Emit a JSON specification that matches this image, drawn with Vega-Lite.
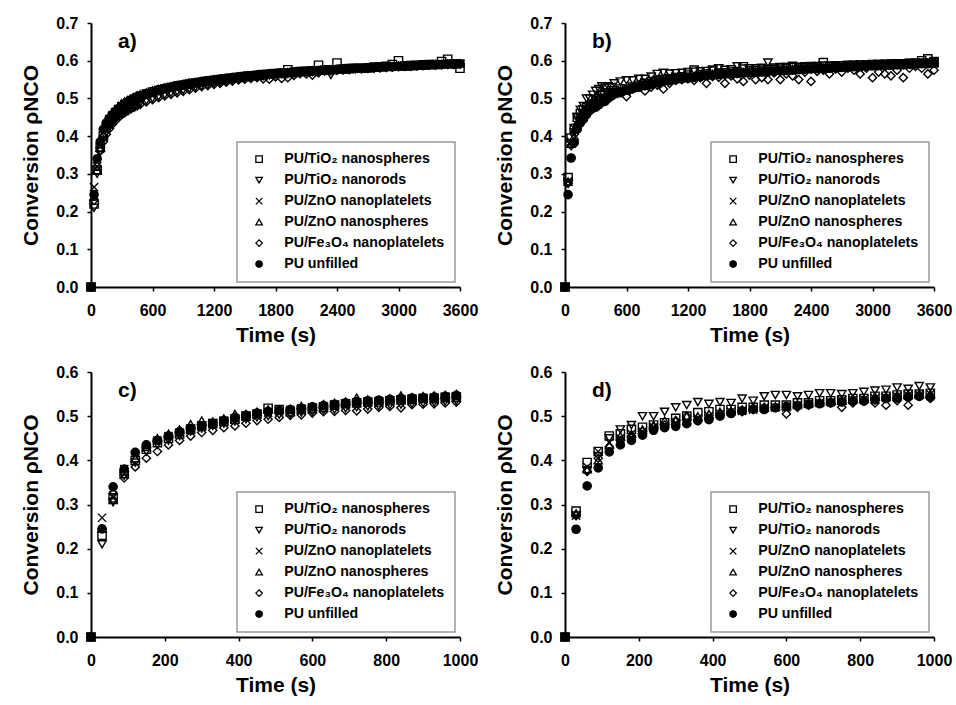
{
  "$schema": "https://vega.github.io/schema/vega-lite/v6.json",
  "background": "white",
  "padding": {"left": 20, "top": 15, "right": 5, "bottom": 5},
  "datasets": {
    "a": [
      {"t":0,"sq":0,"td":0,"x":0,"tu":0,"di":0,"ci":0},
      {"t":30,"sq":0.22,"td":0.21,"x":0.265,"tu":0.24,"di":0.23,"ci":0.245},
      {"t":60,"sq":0.31,"td":0.30,"x":0.32,"tu":0.31,"di":0.32,"ci":0.34},
      {"t":90,"sq":0.37,"td":0.36,"x":0.38,"tu":0.37,"di":0.36,"ci":0.385},
      {"t":120,"sq":0.40,"td":0.39,"x":0.41,"tu":0.405,"di":0.385,"ci":0.418},
      {"t":150,"sq":0.425,"td":0.41,"x":0.43,"tu":0.43,"di":0.405,"ci":0.435},
      {"t":180,"sq":0.44,"td":0.425,"x":0.445,"tu":0.448,"di":0.42,"ci":0.447},
      {"t":210,"sq":0.452,"td":0.435,"x":0.455,"tu":0.46,"di":0.432,"ci":0.457},
      {"t":240,"sq":0.462,"td":0.445,"x":0.464,"tu":0.47,"di":0.442,"ci":0.466},
      {"t":270,"sq":0.47,"td":0.453,"x":0.472,"tu":0.48,"di":0.45,"ci":0.473},
      {"t":300,"sq":0.477,"td":0.46,"x":0.479,"tu":0.487,"di":0.457,"ci":0.479},
      {"t":330,"sq":0.483,"td":0.466,"x":0.485,"tu":0.492,"di":0.462,"ci":0.485},
      {"t":360,"sq":0.488,"td":0.47,"x":0.49,"tu":0.496,"di":0.467,"ci":0.49},
      {"t":390,"sq":0.493,"td":0.475,"x":0.495,"tu":0.5,"di":0.472,"ci":0.495},
      {"t":420,"sq":0.497,"td":0.479,"x":0.499,"tu":0.504,"di":0.476,"ci":0.499},
      {"t":450,"sq":0.501,"td":0.483,"x":0.503,"tu":0.508,"di":0.48,"ci":0.503},
      {"t":480,"sq":0.505,"td":0.487,"x":0.507,"tu":0.511,"di":0.484,"ci":0.507},
      {"t":540,"sq":0.511,"td":0.494,"x":0.513,"tu":0.516,"di":0.491,"ci":0.513},
      {"t":600,"sq":0.516,"td":0.5,"x":0.518,"tu":0.521,"di":0.497,"ci":0.518},
      {"t":660,"sq":0.521,"td":0.505,"x":0.522,"tu":0.525,"di":0.502,"ci":0.523},
      {"t":720,"sq":0.525,"td":0.51,"x":0.526,"tu":0.529,"di":0.507,"ci":0.527},
      {"t":780,"sq":0.529,"td":0.514,"x":0.53,"tu":0.532,"di":0.511,"ci":0.53},
      {"t":840,"sq":0.532,"td":0.518,"x":0.533,"tu":0.535,"di":0.515,"ci":0.534},
      {"t":900,"sq":0.535,"td":0.522,"x":0.536,"tu":0.538,"di":0.519,"ci":0.537},
      {"t":960,"sq":0.538,"td":0.526,"x":0.539,"tu":0.541,"di":0.523,"ci":0.54},
      {"t":1020,"sq":0.541,"td":0.53,"x":0.541,"tu":0.543,"di":0.527,"ci":0.542},
      {"t":1080,"sq":0.543,"td":0.533,"x":0.544,"tu":0.546,"di":0.531,"ci":0.545},
      {"t":1140,"sq":0.546,"td":0.536,"x":0.546,"tu":0.548,"di":0.534,"ci":0.547},
      {"t":1200,"sq":0.548,"td":0.539,"x":0.548,"tu":0.55,"di":0.537,"ci":0.549},
      {"t":1260,"sq":0.55,"td":0.542,"x":0.55,"tu":0.552,"di":0.54,"ci":0.551},
      {"t":1320,"sq":0.552,"td":0.545,"x":0.552,"tu":0.554,"di":0.543,"ci":0.553},
      {"t":1380,"sq":0.554,"td":0.548,"x":0.554,"tu":0.556,"di":0.546,"ci":0.555},
      {"t":1440,"sq":0.556,"td":0.55,"x":0.556,"tu":0.558,"di":0.549,"ci":0.557},
      {"t":1500,"sq":0.558,"td":0.553,"x":0.558,"tu":0.56,"di":0.551,"ci":0.559},
      {"t":1560,"sq":0.56,"td":0.555,"x":0.56,"tu":0.561,"di":0.553,"ci":0.56},
      {"t":1620,"sq":0.561,"td":0.557,"x":0.561,"tu":0.563,"di":0.555,"ci":0.562},
      {"t":1680,"sq":0.563,"td":0.559,"x":0.563,"tu":0.564,"di":0.552,"ci":0.563},
      {"t":1740,"sq":0.564,"td":0.561,"x":0.564,"tu":0.566,"di":0.551,"ci":0.565},
      {"t":1800,"sq":0.566,"td":0.562,"x":0.566,"tu":0.567,"di":0.557,"ci":0.566},
      {"t":1860,"sq":0.567,"td":0.564,"x":0.567,"tu":0.568,"di":0.553,"ci":0.567},
      {"t":1920,"sq":0.576,"td":0.565,"x":0.568,"tu":0.569,"di":0.555,"ci":0.568},
      {"t":1980,"sq":0.569,"td":0.567,"x":0.57,"tu":0.571,"di":0.561,"ci":0.57},
      {"t":2040,"sq":0.571,"td":0.568,"x":0.571,"tu":0.572,"di":0.566,"ci":0.571},
      {"t":2100,"sq":0.572,"td":0.569,"x":0.572,"tu":0.573,"di":0.565,"ci":0.572},
      {"t":2160,"sq":0.573,"td":0.57,"x":0.573,"tu":0.574,"di":0.562,"ci":0.573},
      {"t":2220,"sq":0.588,"td":0.571,"x":0.574,"tu":0.575,"di":0.568,"ci":0.574},
      {"t":2280,"sq":0.575,"td":0.572,"x":0.575,"tu":0.576,"di":0.573,"ci":0.575},
      {"t":2340,"sq":0.576,"td":0.562,"x":0.576,"tu":0.577,"di":0.574,"ci":0.576},
      {"t":2400,"sq":0.594,"td":0.574,"x":0.577,"tu":0.578,"di":0.575,"ci":0.577},
      {"t":2460,"sq":0.578,"td":0.575,"x":0.578,"tu":0.579,"di":0.576,"ci":0.578},
      {"t":2520,"sq":0.579,"td":0.576,"x":0.579,"tu":0.58,"di":0.577,"ci":0.579},
      {"t":2580,"sq":0.58,"td":0.577,"x":0.58,"tu":0.581,"di":0.578,"ci":0.58},
      {"t":2640,"sq":0.58,"td":0.578,"x":0.58,"tu":0.581,"di":0.578,"ci":0.58},
      {"t":2700,"sq":0.581,"td":0.579,"x":0.581,"tu":0.582,"di":0.58,"ci":0.581},
      {"t":2760,"sq":0.583,"td":0.58,"x":0.582,"tu":0.583,"di":0.58,"ci":0.582},
      {"t":2820,"sq":0.584,"td":0.581,"x":0.583,"tu":0.584,"di":0.581,"ci":0.583},
      {"t":2880,"sq":0.585,"td":0.582,"x":0.584,"tu":0.585,"di":0.582,"ci":0.584},
      {"t":2940,"sq":0.59,"td":0.583,"x":0.584,"tu":0.585,"di":0.583,"ci":0.584},
      {"t":3000,"sq":0.6,"td":0.584,"x":0.585,"tu":0.586,"di":0.584,"ci":0.585},
      {"t":3060,"sq":0.586,"td":0.585,"x":0.586,"tu":0.587,"di":0.585,"ci":0.586},
      {"t":3120,"sq":0.587,"td":0.586,"x":0.587,"tu":0.588,"di":0.585,"ci":0.587},
      {"t":3180,"sq":0.588,"td":0.586,"x":0.587,"tu":0.588,"di":0.586,"ci":0.587},
      {"t":3240,"sq":0.589,"td":0.587,"x":0.588,"tu":0.589,"di":0.587,"ci":0.588},
      {"t":3300,"sq":0.59,"td":0.588,"x":0.589,"tu":0.59,"di":0.588,"ci":0.589},
      {"t":3360,"sq":0.59,"td":0.588,"x":0.589,"tu":0.59,"di":0.589,"ci":0.589},
      {"t":3420,"sq":0.598,"td":0.589,"x":0.59,"tu":0.591,"di":0.589,"ci":0.59},
      {"t":3480,"sq":0.604,"td":0.59,"x":0.591,"tu":0.592,"di":0.59,"ci":0.591},
      {"t":3540,"sq":0.592,"td":0.59,"x":0.591,"tu":0.592,"di":0.59,"ci":0.591},
      {"t":3600,"sq":0.58,"td":0.591,"x":0.592,"tu":0.593,"di":0.591,"ci":0.592}
    ],
    "b": [
      {"t":0,"sq":0,"td":0,"x":0,"tu":0,"di":0,"ci":0},
      {"t":30,"sq":0.29,"td":0.275,"x":0.28,"tu":0.28,"di":0.275,"ci":0.245},
      {"t":60,"sq":0.395,"td":0.38,"x":0.385,"tu":0.38,"di":0.375,"ci":0.342},
      {"t":90,"sq":0.42,"td":0.41,"x":0.42,"tu":0.40,"di":0.405,"ci":0.383},
      {"t":120,"sq":0.45,"td":0.45,"x":0.44,"tu":0.435,"di":0.43,"ci":0.419},
      {"t":150,"sq":0.46,"td":0.47,"x":0.45,"tu":0.455,"di":0.445,"ci":0.435},
      {"t":180,"sq":0.47,"td":0.48,"x":0.46,"tu":0.46,"di":0.455,"ci":0.445},
      {"t":210,"sq":0.475,"td":0.5,"x":0.465,"tu":0.47,"di":0.465,"ci":0.457},
      {"t":240,"sq":0.48,"td":0.5,"x":0.475,"tu":0.48,"di":0.475,"ci":0.468},
      {"t":270,"sq":0.485,"td":0.51,"x":0.48,"tu":0.49,"di":0.48,"ci":0.474},
      {"t":300,"sq":0.495,"td":0.52,"x":0.485,"tu":0.49,"di":0.49,"ci":0.477},
      {"t":330,"sq":0.5,"td":0.525,"x":0.49,"tu":0.5,"di":0.5,"ci":0.483},
      {"t":360,"sq":0.508,"td":0.532,"x":0.495,"tu":0.5,"di":0.49,"ci":0.49},
      {"t":390,"sq":0.51,"td":0.528,"x":0.5,"tu":0.505,"di":0.495,"ci":0.492},
      {"t":420,"sq":0.515,"td":0.532,"x":0.505,"tu":0.51,"di":0.505,"ci":0.5},
      {"t":450,"sq":0.515,"td":0.53,"x":0.51,"tu":0.512,"di":0.51,"ci":0.506},
      {"t":480,"sq":0.52,"td":0.54,"x":0.512,"tu":0.515,"di":0.51,"ci":0.512},
      {"t":540,"sq":0.525,"td":0.545,"x":0.518,"tu":0.52,"di":0.52,"ci":0.515},
      {"t":600,"sq":0.525,"td":0.548,"x":0.52,"tu":0.523,"di":0.505,"ci":0.522},
      {"t":660,"sq":0.53,"td":0.548,"x":0.528,"tu":0.53,"di":0.525,"ci":0.526},
      {"t":720,"sq":0.535,"td":0.552,"x":0.532,"tu":0.535,"di":0.53,"ci":0.53},
      {"t":780,"sq":0.54,"td":0.552,"x":0.537,"tu":0.54,"di":0.52,"ci":0.534},
      {"t":840,"sq":0.545,"td":0.558,"x":0.54,"tu":0.545,"di":0.53,"ci":0.537},
      {"t":900,"sq":0.548,"td":0.565,"x":0.545,"tu":0.548,"di":0.535,"ci":0.541},
      {"t":960,"sq":0.55,"td":0.568,"x":0.548,"tu":0.55,"di":0.525,"ci":0.545},
      {"t":1020,"sq":0.552,"td":0.566,"x":0.55,"tu":0.552,"di":0.54,"ci":0.547},
      {"t":1080,"sq":0.555,"td":0.567,"x":0.552,"tu":0.554,"di":0.548,"ci":0.55},
      {"t":1140,"sq":0.557,"td":0.568,"x":0.554,"tu":0.556,"di":0.55,"ci":0.552},
      {"t":1200,"sq":0.562,"td":0.57,"x":0.556,"tu":0.558,"di":0.552,"ci":0.554},
      {"t":1260,"sq":0.575,"td":0.571,"x":0.558,"tu":0.56,"di":0.548,"ci":0.556},
      {"t":1320,"sq":0.563,"td":0.572,"x":0.56,"tu":0.562,"di":0.555,"ci":0.558},
      {"t":1380,"sq":0.565,"td":0.573,"x":0.562,"tu":0.563,"di":0.54,"ci":0.56},
      {"t":1440,"sq":0.575,"td":0.574,"x":0.563,"tu":0.565,"di":0.558,"ci":0.561},
      {"t":1500,"sq":0.567,"td":0.58,"x":0.565,"tu":0.566,"di":0.556,"ci":0.563},
      {"t":1560,"sq":0.568,"td":0.576,"x":0.566,"tu":0.567,"di":0.54,"ci":0.564},
      {"t":1620,"sq":0.57,"td":0.577,"x":0.567,"tu":0.568,"di":0.56,"ci":0.565},
      {"t":1680,"sq":0.571,"td":0.585,"x":0.568,"tu":0.569,"di":0.552,"ci":0.566},
      {"t":1740,"sq":0.584,"td":0.579,"x":0.569,"tu":0.57,"di":0.545,"ci":0.567},
      {"t":1800,"sq":0.573,"td":0.58,"x":0.57,"tu":0.571,"di":0.562,"ci":0.568},
      {"t":1860,"sq":0.574,"td":0.58,"x":0.571,"tu":0.572,"di":0.55,"ci":0.569},
      {"t":1920,"sq":0.575,"td":0.581,"x":0.572,"tu":0.573,"di":0.555,"ci":0.57},
      {"t":1980,"sq":0.576,"td":0.595,"x":0.573,"tu":0.574,"di":0.55,"ci":0.571},
      {"t":2040,"sq":0.577,"td":0.582,"x":0.574,"tu":0.575,"di":0.568,"ci":0.572},
      {"t":2100,"sq":0.578,"td":0.583,"x":0.575,"tu":0.576,"di":0.55,"ci":0.573},
      {"t":2160,"sq":0.579,"td":0.583,"x":0.576,"tu":0.577,"di":0.565,"ci":0.574},
      {"t":2220,"sq":0.585,"td":0.584,"x":0.577,"tu":0.578,"di":0.56,"ci":0.575},
      {"t":2280,"sq":0.58,"td":0.584,"x":0.578,"tu":0.579,"di":0.55,"ci":0.576},
      {"t":2340,"sq":0.581,"td":0.585,"x":0.579,"tu":0.58,"di":0.57,"ci":0.577},
      {"t":2400,"sq":0.582,"td":0.586,"x":0.58,"tu":0.581,"di":0.545,"ci":0.578},
      {"t":2460,"sq":0.583,"td":0.586,"x":0.581,"tu":0.582,"di":0.572,"ci":0.579},
      {"t":2520,"sq":0.595,"td":0.587,"x":0.581,"tu":0.582,"di":0.575,"ci":0.58},
      {"t":2580,"sq":0.584,"td":0.587,"x":0.582,"tu":0.583,"di":0.565,"ci":0.58},
      {"t":2640,"sq":0.585,"td":0.588,"x":0.583,"tu":0.584,"di":0.578,"ci":0.581},
      {"t":2700,"sq":0.586,"td":0.588,"x":0.583,"tu":0.584,"di":0.57,"ci":0.582},
      {"t":2760,"sq":0.586,"td":0.589,"x":0.584,"tu":0.585,"di":0.58,"ci":0.583},
      {"t":2820,"sq":0.587,"td":0.589,"x":0.585,"tu":0.586,"di":0.575,"ci":0.584},
      {"t":2880,"sq":0.588,"td":0.59,"x":0.586,"tu":0.587,"di":0.565,"ci":0.584},
      {"t":2940,"sq":0.588,"td":0.59,"x":0.586,"tu":0.587,"di":0.58,"ci":0.585},
      {"t":3000,"sq":0.589,"td":0.591,"x":0.587,"tu":0.588,"di":0.555,"ci":0.586},
      {"t":3060,"sq":0.59,"td":0.591,"x":0.588,"tu":0.589,"di":0.57,"ci":0.587},
      {"t":3120,"sq":0.59,"td":0.592,"x":0.588,"tu":0.589,"di":0.565,"ci":0.587},
      {"t":3180,"sq":0.591,"td":0.592,"x":0.589,"tu":0.59,"di":0.56,"ci":0.588},
      {"t":3240,"sq":0.592,"td":0.593,"x":0.59,"tu":0.591,"di":0.575,"ci":0.589},
      {"t":3300,"sq":0.592,"td":0.593,"x":0.59,"tu":0.591,"di":0.555,"ci":0.589},
      {"t":3360,"sq":0.593,"td":0.594,"x":0.591,"tu":0.592,"di":0.58,"ci":0.59},
      {"t":3420,"sq":0.594,"td":0.594,"x":0.592,"tu":0.593,"di":0.585,"ci":0.591},
      {"t":3480,"sq":0.6,"td":0.595,"x":0.592,"tu":0.593,"di":0.58,"ci":0.592},
      {"t":3540,"sq":0.605,"td":0.595,"x":0.593,"tu":0.594,"di":0.565,"ci":0.592},
      {"t":3600,"sq":0.598,"td":0.596,"x":0.593,"tu":0.594,"di":0.575,"ci":0.593}
    ],
    "c": [
      {"t":0,"sq":0,"td":0,"x":0,"tu":0,"di":0,"ci":0},
      {"t":30,"sq":0.23,"td":0.21,"x":0.27,"tu":0.245,"di":0.245,"ci":0.245},
      {"t":60,"sq":0.315,"td":0.305,"x":0.32,"tu":0.31,"di":0.325,"ci":0.34},
      {"t":90,"sq":0.37,"td":0.365,"x":0.38,"tu":0.375,"di":0.36,"ci":0.38},
      {"t":120,"sq":0.4,"td":0.395,"x":0.41,"tu":0.405,"di":0.385,"ci":0.418},
      {"t":150,"sq":0.425,"td":0.42,"x":0.43,"tu":0.43,"di":0.405,"ci":0.435},
      {"t":180,"sq":0.44,"td":0.435,"x":0.445,"tu":0.45,"di":0.42,"ci":0.445},
      {"t":210,"sq":0.45,"td":0.445,"x":0.455,"tu":0.46,"di":0.435,"ci":0.455},
      {"t":240,"sq":0.46,"td":0.455,"x":0.463,"tu":0.47,"di":0.445,"ci":0.465},
      {"t":270,"sq":0.47,"td":0.465,"x":0.472,"tu":0.482,"di":0.455,"ci":0.472},
      {"t":300,"sq":0.478,"td":0.472,"x":0.478,"tu":0.49,"di":0.463,"ci":0.478},
      {"t":330,"sq":0.483,"td":0.478,"x":0.484,"tu":0.488,"di":0.468,"ci":0.483},
      {"t":360,"sq":0.488,"td":0.483,"x":0.49,"tu":0.495,"di":0.474,"ci":0.49},
      {"t":390,"sq":0.493,"td":0.488,"x":0.495,"tu":0.505,"di":0.478,"ci":0.497},
      {"t":420,"sq":0.5,"td":0.493,"x":0.5,"tu":0.505,"di":0.484,"ci":0.502},
      {"t":450,"sq":0.505,"td":0.497,"x":0.504,"tu":0.51,"di":0.49,"ci":0.507},
      {"t":480,"sq":0.518,"td":0.5,"x":0.508,"tu":0.515,"di":0.493,"ci":0.511},
      {"t":510,"sq":0.515,"td":0.503,"x":0.511,"tu":0.515,"di":0.497,"ci":0.513},
      {"t":540,"sq":0.51,"td":0.505,"x":0.514,"tu":0.517,"di":0.502,"ci":0.515},
      {"t":570,"sq":0.515,"td":0.508,"x":0.517,"tu":0.523,"di":0.503,"ci":0.518},
      {"t":600,"sq":0.517,"td":0.51,"x":0.52,"tu":0.522,"di":0.507,"ci":0.521},
      {"t":630,"sq":0.52,"td":0.513,"x":0.522,"tu":0.527,"di":0.51,"ci":0.524},
      {"t":660,"sq":0.525,"td":0.515,"x":0.525,"tu":0.53,"di":0.511,"ci":0.527},
      {"t":690,"sq":0.528,"td":0.518,"x":0.527,"tu":0.533,"di":0.513,"ci":0.53},
      {"t":720,"sq":0.53,"td":0.52,"x":0.53,"tu":0.542,"di":0.512,"ci":0.533},
      {"t":750,"sq":0.532,"td":0.522,"x":0.532,"tu":0.538,"di":0.516,"ci":0.535},
      {"t":780,"sq":0.532,"td":0.523,"x":0.534,"tu":0.537,"di":0.52,"ci":0.536},
      {"t":810,"sq":0.535,"td":0.525,"x":0.536,"tu":0.54,"di":0.522,"ci":0.538},
      {"t":840,"sq":0.537,"td":0.526,"x":0.538,"tu":0.547,"di":0.519,"ci":0.54},
      {"t":870,"sq":0.538,"td":0.528,"x":0.539,"tu":0.543,"di":0.526,"ci":0.541},
      {"t":900,"sq":0.54,"td":0.53,"x":0.541,"tu":0.545,"di":0.527,"ci":0.542},
      {"t":930,"sq":0.54,"td":0.531,"x":0.542,"tu":0.547,"di":0.528,"ci":0.543},
      {"t":960,"sq":0.542,"td":0.533,"x":0.544,"tu":0.548,"di":0.53,"ci":0.545},
      {"t":990,"sq":0.543,"td":0.535,"x":0.545,"tu":0.55,"di":0.532,"ci":0.547}
    ],
    "d": [
      {"t":0,"sq":0,"td":0,"x":0,"tu":0,"di":0,"ci":0},
      {"t":30,"sq":0.285,"td":0.275,"x":0.275,"tu":0.28,"di":0.275,"ci":0.244},
      {"t":60,"sq":0.395,"td":0.375,"x":0.385,"tu":0.38,"di":0.375,"ci":0.342},
      {"t":90,"sq":0.42,"td":0.41,"x":0.42,"tu":0.4,"di":0.405,"ci":0.383},
      {"t":120,"sq":0.455,"td":0.45,"x":0.44,"tu":0.435,"di":0.43,"ci":0.419},
      {"t":150,"sq":0.46,"td":0.47,"x":0.45,"tu":0.455,"di":0.445,"ci":0.435},
      {"t":180,"sq":0.47,"td":0.48,"x":0.46,"tu":0.46,"di":0.455,"ci":0.445},
      {"t":210,"sq":0.475,"td":0.5,"x":0.465,"tu":0.47,"di":0.465,"ci":0.457},
      {"t":240,"sq":0.48,"td":0.5,"x":0.475,"tu":0.48,"di":0.475,"ci":0.468},
      {"t":270,"sq":0.485,"td":0.51,"x":0.48,"tu":0.49,"di":0.48,"ci":0.474},
      {"t":300,"sq":0.495,"td":0.52,"x":0.485,"tu":0.49,"di":0.49,"ci":0.477},
      {"t":330,"sq":0.5,"td":0.525,"x":0.49,"tu":0.5,"di":0.5,"ci":0.483},
      {"t":360,"sq":0.508,"td":0.532,"x":0.495,"tu":0.5,"di":0.49,"ci":0.49},
      {"t":390,"sq":0.51,"td":0.528,"x":0.5,"tu":0.505,"di":0.495,"ci":0.492},
      {"t":420,"sq":0.515,"td":0.532,"x":0.505,"tu":0.51,"di":0.505,"ci":0.5},
      {"t":450,"sq":0.515,"td":0.53,"x":0.51,"tu":0.512,"di":0.51,"ci":0.506},
      {"t":480,"sq":0.52,"td":0.54,"x":0.512,"tu":0.515,"di":0.51,"ci":0.512},
      {"t":510,"sq":0.52,"td":0.535,"x":0.515,"tu":0.52,"di":0.515,"ci":0.516},
      {"t":540,"sq":0.525,"td":0.545,"x":0.518,"tu":0.52,"di":0.52,"ci":0.515},
      {"t":570,"sq":0.525,"td":0.548,"x":0.52,"tu":0.522,"di":0.52,"ci":0.519},
      {"t":600,"sq":0.525,"td":0.548,"x":0.52,"tu":0.523,"di":0.505,"ci":0.522},
      {"t":630,"sq":0.53,"td":0.545,"x":0.525,"tu":0.527,"di":0.52,"ci":0.524},
      {"t":660,"sq":0.53,"td":0.548,"x":0.528,"tu":0.53,"di":0.525,"ci":0.526},
      {"t":690,"sq":0.535,"td":0.552,"x":0.53,"tu":0.532,"di":0.53,"ci":0.528},
      {"t":720,"sq":0.535,"td":0.552,"x":0.532,"tu":0.535,"di":0.53,"ci":0.53},
      {"t":750,"sq":0.537,"td":0.55,"x":0.535,"tu":0.535,"di":0.52,"ci":0.532},
      {"t":780,"sq":0.54,"td":0.552,"x":0.537,"tu":0.54,"di":0.53,"ci":0.534},
      {"t":810,"sq":0.54,"td":0.555,"x":0.538,"tu":0.54,"di":0.535,"ci":0.534},
      {"t":840,"sq":0.545,"td":0.558,"x":0.54,"tu":0.545,"di":0.53,"ci":0.537},
      {"t":870,"sq":0.545,"td":0.56,"x":0.542,"tu":0.545,"di":0.525,"ci":0.54},
      {"t":900,"sq":0.548,"td":0.565,"x":0.545,"tu":0.548,"di":0.535,"ci":0.541},
      {"t":930,"sq":0.55,"td":0.562,"x":0.547,"tu":0.548,"di":0.525,"ci":0.543},
      {"t":960,"sq":0.55,"td":0.568,"x":0.548,"tu":0.55,"di":0.545,"ci":0.545},
      {"t":990,"sq":0.552,"td":0.565,"x":0.55,"tu":0.55,"di":0.54,"ci":0.543}
    ]
  },
  "columns": 2,
  "spacing": {"row": 19, "column": 16},
  "resolve": {"scale": {"shape": "independent", "fill": "independent", "stroke": "independent"}},
  "concat": [
    {
      "data": {"name": "a"},
      "transform": [{"fold": ["sq","td","x","tu","di","ci"], "as": ["s","v"]}],
      "width": 369, "height": 264,
      "title": {"text": "a)"},
      "mark": {"type": "point", "filled": true, "size": 68, "strokeWidth": 1.4, "opacity": 1},
      "encoding": {
        "x": {"field": "t", "type": "quantitative", "scale": {"domain": [0, 3600], "nice": false}, "axis": {"values": [0,600,1200,1800,2400,3000,3600], "format": "d", "title": "Time (s)"}},
        "y": {"field": "v", "type": "quantitative", "scale": {"domain": [0, 0.7], "nice": false}, "axis": {"values": [0,0.1,0.2,0.3,0.4,0.5,0.6,0.7], "format": ".1f", "title": "Conversion ρNCO"}},
        "shape": {"field": "s", "type": "nominal", "scale": {"domain": ["sq","td","x","tu","di","ci"], "range": ["square","triangle-down","M-1,-1L1,1M-1,1L1,-1","triangle-up","diamond","circle"]}, "legend": {"title": null, "labelExpr": "datum.value == 'sq' ? 'PU/TiO₂ nanospheres' : datum.value == 'td' ? 'PU/TiO₂ nanorods' : datum.value == 'x' ? 'PU/ZnO nanoplatelets' : datum.value == 'tu' ? 'PU/ZnO nanospheres' : datum.value == 'di' ? 'PU/Fe₃O₄ nanoplatelets' : 'PU unfilled'"}},
        "fill": {"field": "s", "type": "nominal", "scale": {"domain": ["sq","td","x","tu","di","ci"], "range": ["transparent","transparent","transparent","transparent","transparent","black"]}, "legend": {"title": null, "labelExpr": "datum.value == 'sq' ? 'PU/TiO₂ nanospheres' : datum.value == 'td' ? 'PU/TiO₂ nanorods' : datum.value == 'x' ? 'PU/ZnO nanoplatelets' : datum.value == 'tu' ? 'PU/ZnO nanospheres' : datum.value == 'di' ? 'PU/Fe₃O₄ nanoplatelets' : 'PU unfilled'"}},
        "stroke": {"field": "s", "type": "nominal", "scale": {"domain": ["sq","td","x","tu","di","ci"], "range": ["black","black","black","black","black","black"]}, "legend": {"title": null, "labelExpr": "datum.value == 'sq' ? 'PU/TiO₂ nanospheres' : datum.value == 'td' ? 'PU/TiO₂ nanorods' : datum.value == 'x' ? 'PU/ZnO nanoplatelets' : datum.value == 'tu' ? 'PU/ZnO nanospheres' : datum.value == 'di' ? 'PU/Fe₃O₄ nanoplatelets' : 'PU unfilled'"}}
      }
    },
    {
      "data": {"name": "b"},
      "transform": [{"fold": ["sq","td","x","tu","di","ci"], "as": ["s","v"]}],
      "width": 369, "height": 264,
      "title": {"text": "b)"},
      "mark": {"type": "point", "filled": true, "size": 68, "strokeWidth": 1.4, "opacity": 1},
      "encoding": {
        "x": {"field": "t", "type": "quantitative", "scale": {"domain": [0, 3600], "nice": false}, "axis": {"values": [0,600,1200,1800,2400,3000,3600], "format": "d", "title": "Time (s)"}},
        "y": {"field": "v", "type": "quantitative", "scale": {"domain": [0, 0.7], "nice": false}, "axis": {"values": [0,0.1,0.2,0.3,0.4,0.5,0.6,0.7], "format": ".1f", "title": "Conversion ρNCO"}},
        "shape": {"field": "s", "type": "nominal", "scale": {"domain": ["sq","td","x","tu","di","ci"], "range": ["square","triangle-down","M-1,-1L1,1M-1,1L1,-1","triangle-up","diamond","circle"]}, "legend": {"title": null, "labelExpr": "datum.value == 'sq' ? 'PU/TiO₂ nanospheres' : datum.value == 'td' ? 'PU/TiO₂ nanorods' : datum.value == 'x' ? 'PU/ZnO nanoplatelets' : datum.value == 'tu' ? 'PU/ZnO nanospheres' : datum.value == 'di' ? 'PU/Fe₃O₄ nanoplatelets' : 'PU unfilled'"}},
        "fill": {"field": "s", "type": "nominal", "scale": {"domain": ["sq","td","x","tu","di","ci"], "range": ["transparent","transparent","transparent","transparent","transparent","black"]}, "legend": {"title": null, "labelExpr": "datum.value == 'sq' ? 'PU/TiO₂ nanospheres' : datum.value == 'td' ? 'PU/TiO₂ nanorods' : datum.value == 'x' ? 'PU/ZnO nanoplatelets' : datum.value == 'tu' ? 'PU/ZnO nanospheres' : datum.value == 'di' ? 'PU/Fe₃O₄ nanoplatelets' : 'PU unfilled'"}},
        "stroke": {"field": "s", "type": "nominal", "scale": {"domain": ["sq","td","x","tu","di","ci"], "range": ["black","black","black","black","black","black"]}, "legend": {"title": null, "labelExpr": "datum.value == 'sq' ? 'PU/TiO₂ nanospheres' : datum.value == 'td' ? 'PU/TiO₂ nanorods' : datum.value == 'x' ? 'PU/ZnO nanoplatelets' : datum.value == 'tu' ? 'PU/ZnO nanospheres' : datum.value == 'di' ? 'PU/Fe₃O₄ nanoplatelets' : 'PU unfilled'"}}
      }
    },
    {
      "data": {"name": "c"},
      "transform": [{"fold": ["sq","td","x","tu","di","ci"], "as": ["s","v"]}],
      "width": 369, "height": 265,
      "title": {"text": "c)"},
      "mark": {"type": "point", "filled": true, "size": 68, "strokeWidth": 1.4, "opacity": 1},
      "encoding": {
        "x": {"field": "t", "type": "quantitative", "scale": {"domain": [0, 1000], "nice": false}, "axis": {"values": [0,200,400,600,800,1000], "format": "d", "title": "Time (s)"}},
        "y": {"field": "v", "type": "quantitative", "scale": {"domain": [0, 0.6], "nice": false}, "axis": {"values": [0,0.1,0.2,0.3,0.4,0.5,0.6], "format": ".1f", "title": "Conversion ρNCO"}},
        "shape": {"field": "s", "type": "nominal", "scale": {"domain": ["sq","td","x","tu","di","ci"], "range": ["square","triangle-down","M-1,-1L1,1M-1,1L1,-1","triangle-up","diamond","circle"]}, "legend": {"title": null, "labelExpr": "datum.value == 'sq' ? 'PU/TiO₂ nanospheres' : datum.value == 'td' ? 'PU/TiO₂ nanorods' : datum.value == 'x' ? 'PU/ZnO nanoplatelets' : datum.value == 'tu' ? 'PU/ZnO nanospheres' : datum.value == 'di' ? 'PU/Fe₃O₄ nanoplatelets' : 'PU unfilled'"}},
        "fill": {"field": "s", "type": "nominal", "scale": {"domain": ["sq","td","x","tu","di","ci"], "range": ["transparent","transparent","transparent","transparent","transparent","black"]}, "legend": {"title": null, "labelExpr": "datum.value == 'sq' ? 'PU/TiO₂ nanospheres' : datum.value == 'td' ? 'PU/TiO₂ nanorods' : datum.value == 'x' ? 'PU/ZnO nanoplatelets' : datum.value == 'tu' ? 'PU/ZnO nanospheres' : datum.value == 'di' ? 'PU/Fe₃O₄ nanoplatelets' : 'PU unfilled'"}},
        "stroke": {"field": "s", "type": "nominal", "scale": {"domain": ["sq","td","x","tu","di","ci"], "range": ["black","black","black","black","black","black"]}, "legend": {"title": null, "labelExpr": "datum.value == 'sq' ? 'PU/TiO₂ nanospheres' : datum.value == 'td' ? 'PU/TiO₂ nanorods' : datum.value == 'x' ? 'PU/ZnO nanoplatelets' : datum.value == 'tu' ? 'PU/ZnO nanospheres' : datum.value == 'di' ? 'PU/Fe₃O₄ nanoplatelets' : 'PU unfilled'"}}
      }
    },
    {
      "data": {"name": "d"},
      "transform": [{"fold": ["sq","td","x","tu","di","ci"], "as": ["s","v"]}],
      "width": 369, "height": 265,
      "title": {"text": "d)"},
      "mark": {"type": "point", "filled": true, "size": 68, "strokeWidth": 1.4, "opacity": 1},
      "encoding": {
        "x": {"field": "t", "type": "quantitative", "scale": {"domain": [0, 1000], "nice": false}, "axis": {"values": [0,200,400,600,800,1000], "format": "d", "title": "Time (s)"}},
        "y": {"field": "v", "type": "quantitative", "scale": {"domain": [0, 0.6], "nice": false}, "axis": {"values": [0,0.1,0.2,0.3,0.4,0.5,0.6], "format": ".1f", "title": "Conversion ρNCO"}},
        "shape": {"field": "s", "type": "nominal", "scale": {"domain": ["sq","td","x","tu","di","ci"], "range": ["square","triangle-down","M-1,-1L1,1M-1,1L1,-1","triangle-up","diamond","circle"]}, "legend": {"title": null, "labelExpr": "datum.value == 'sq' ? 'PU/TiO₂ nanospheres' : datum.value == 'td' ? 'PU/TiO₂ nanorods' : datum.value == 'x' ? 'PU/ZnO nanoplatelets' : datum.value == 'tu' ? 'PU/ZnO nanospheres' : datum.value == 'di' ? 'PU/Fe₃O₄ nanoplatelets' : 'PU unfilled'"}},
        "fill": {"field": "s", "type": "nominal", "scale": {"domain": ["sq","td","x","tu","di","ci"], "range": ["transparent","transparent","transparent","transparent","transparent","black"]}, "legend": {"title": null, "labelExpr": "datum.value == 'sq' ? 'PU/TiO₂ nanospheres' : datum.value == 'td' ? 'PU/TiO₂ nanorods' : datum.value == 'x' ? 'PU/ZnO nanoplatelets' : datum.value == 'tu' ? 'PU/ZnO nanospheres' : datum.value == 'di' ? 'PU/Fe₃O₄ nanoplatelets' : 'PU unfilled'"}},
        "stroke": {"field": "s", "type": "nominal", "scale": {"domain": ["sq","td","x","tu","di","ci"], "range": ["black","black","black","black","black","black"]}, "legend": {"title": null, "labelExpr": "datum.value == 'sq' ? 'PU/TiO₂ nanospheres' : datum.value == 'td' ? 'PU/TiO₂ nanorods' : datum.value == 'x' ? 'PU/ZnO nanoplatelets' : datum.value == 'tu' ? 'PU/ZnO nanospheres' : datum.value == 'di' ? 'PU/Fe₃O₄ nanoplatelets' : 'PU unfilled'"}}
      }
    }
  ],
  "config": {
    "view": {"stroke": null},
    "font": "Liberation Sans",
    "title": {"anchor": "start", "frame": "group", "fontSize": 21, "fontWeight": "bold", "color": "black", "font": "Liberation Sans", "offset": -37, "dx": 27},
    "axis": {"grid": false, "domainColor": "black", "domainWidth": 2, "tickColor": "black", "tickWidth": 1.5, "tickSize": 4, "labelFont": "Liberation Sans", "labelFontWeight": "bold", "labelFontSize": 16, "labelColor": "black", "titleFont": "Liberation Sans", "titleFontWeight": "bold", "titleFontSize": 21, "titleColor": "black"},
    "axisX": {"labelPadding": 11, "titlePadding": 6, "labelFlush": false},
    "axisY": {"labelPadding": 9, "titlePadding": 14},
    "legend": {"orient": "bottom-right", "offset": 5, "padding": 10, "strokeColor": "#999999", "strokeWidth": 1.5, "labelFont": "Liberation Sans", "labelFontWeight": "bold", "labelFontSize": 14.2, "labelColor": "black", "labelLimit": 300, "symbolSize": 42, "symbolStrokeWidth": 1.3, "rowPadding": 6, "labelOffset": 18, "symbolOffset": 5}
  }
}
